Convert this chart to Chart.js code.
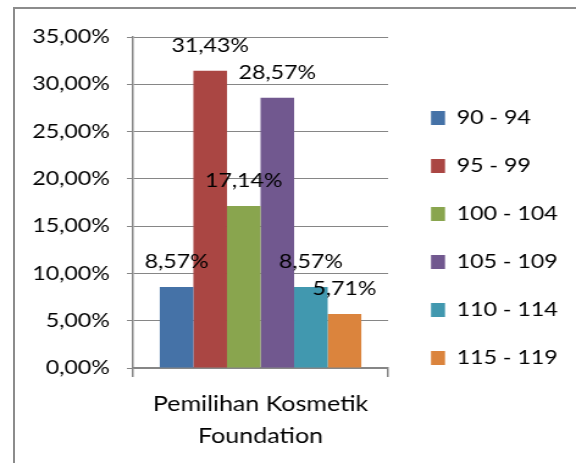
<!DOCTYPE html>
<html>
<head>
<meta charset="utf-8">
<script src="https://cdn.jsdelivr.net/npm/chart.js@4.4.1/dist/chart.umd.min.js"></script>
<style>
  html, body { margin: 0; padding: 0; background: #fff; overflow: hidden; }
  #frame {
    position: absolute; left: 13px; top: 7px; width: 620px; height: 520px;
    border: 2px solid #8c8c8c; box-sizing: border-box;
  }
  #wrap {
    position: absolute; left: 0; top: 0; width: 472px; height: 463px;
    transform: scaleX(1.2203); transform-origin: 0 0;
  }
</style>
</head>
<body>
<div id="frame"></div>
<div id="wrap"><canvas id="chart" width="472" height="463"></canvas></div>
<script>
// data
var category = [["Pemilihan Kosmetik", "Foundation"]];
var ranges = ["90 - 94", "95 - 99", "100 - 104", "105 - 109", "110 - 114", "115 - 119"];
var percents = [8.57, 31.43, 17.14, 28.57, 8.57, 5.71];
var colors = ["#4572A7", "#AA4643", "#89A54E", "#71588F", "#4198AF", "#DB843D"];
var yTicks = [0, 5, 10, 15, 20, 25, 30, 35];

// layout (unscaled canvas px, the page stretches x by 1.2203)
var W = 472, H = 463;
var FONT = 19, X_FONT = 20.5;
var PLOT_LEFT = 109, PLOT_RIGHT = 318, PLOT_TOP = 37, PLOT_BOTTOM = 368;
var LEG_PAD = 29, BOX_W = 11.5, BOX_H = 14, LEG_W = 100;
var LEG_BOX_X = 353.2, LEG_FIRST_Y = 118;
var GRID = "#868686";

function pct(v) { return v.toFixed(2).replace(".", ",") + "%"; }

Chart.defaults.font.family = "Lato";
Chart.defaults.font.size = FONT;
Chart.defaults.color = "#000";

var datasets = ranges.map(function (r, i) {
  return {
    label: r,
    data: [percents[i]],
    backgroundColor: colors[i],
    borderWidth: 0,
    categoryPercentage: 0.79,
    barPercentage: 1
  };
});

//value labels above bars
var valueLabels = {
  id: "valueLabels",
  afterDatasetsDraw: function (chart) {
    var ctx = chart.ctx;
    ctx.save();
    ctx.font = FONT + "px Lato";
    ctx.fillStyle = "#000";
    ctx.textAlign = "center";
    ctx.textBaseline = "middle";
    chart.data.datasets.forEach(function (ds, i) {
      chart.getDatasetMeta(i).data.forEach(function (bar, j) {
        ctx.fillText(pct(ds.data[j]), bar.x, bar.y - 25);
      });
    });
    ctx.restore();
  }
};

// move legend to its spot
var legendSpot = {
  id: "legendSpot",
  afterLayout: function (chart) {
    var lg = chart.legend;
    lg.left = LEG_BOX_X - LEG_PAD;
    lg.right = W;
    lg.top = LEG_FIRST_Y - FONT / 2 - LEG_PAD;
    lg.bottom = H;
  }
};

new Chart(document.getElementById("chart"), {
  type: "bar",
  data: { labels: category, datasets: datasets },
  options: {
    responsive: false,
    animation: false,
    devicePixelRatio: 1,
    layout: { padding: { top: PLOT_TOP, right: W - PLOT_RIGHT - LEG_W, bottom: 0, left: 0 } },
    plugins: {
      title: { display: false },
      tooltip: { enabled: false },
      legend: {
        position: "right",
        align: "start",
        maxWidth: LEG_W,
        labels: {
          boxWidth: BOX_W,
          boxHeight: BOX_H,
          padding: LEG_PAD,
          color: "#000",
          font: { size: FONT }
        }
      }
    },
    scales: {
      x: {
        grid: { display: true, drawOnChartArea: false, tickLength: 9, color: GRID, lineWidth: 1.5 },
        border: { display: true, color: GRID, width: 1.5 },
        ticks: { padding: 11, font: { size: X_FONT, lineHeight: 32 / X_FONT }, color: "#000" },
        afterFit: function (s) { s.height = H - PLOT_BOTTOM; }
      },
      y: {
        min: 0,
        max: 35,
        afterBuildTicks: function (s) { s.ticks = yTicks.map(function (v) { return { value: v }; }); },
        grid: { color: GRID, lineWidth: 1, tickLength: 5 },
        border: { display: true, color: GRID, width: 1.5 },
        ticks: { padding: 14, color: "#000", callback: function (v) { return pct(v); } },
        afterFit: function (s) { s.width = PLOT_LEFT; }
      }
    }
  },
  plugins: [valueLabels, legendSpot]
});
</script>
</body>
</html>
